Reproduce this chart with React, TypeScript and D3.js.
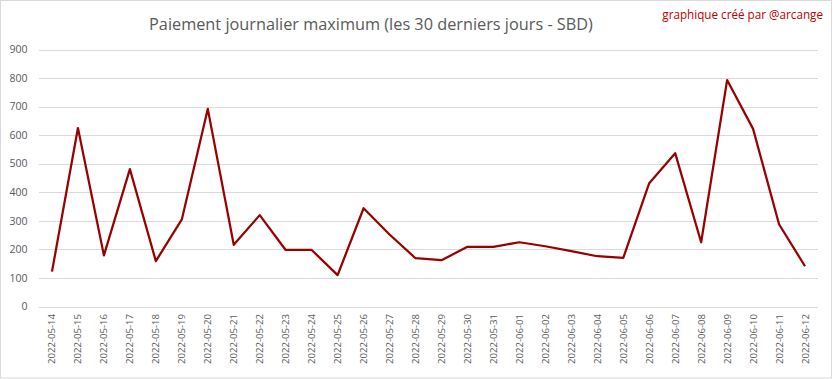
import React from "react";
import * as d3 from "d3";

const dates = [
  "2022-05-14","2022-05-15","2022-05-16","2022-05-17","2022-05-18","2022-05-19",
  "2022-05-20","2022-05-21","2022-05-22","2022-05-23","2022-05-24","2022-05-25",
  "2022-05-26","2022-05-27","2022-05-28","2022-05-29","2022-05-30","2022-05-31",
  "2022-06-01","2022-06-02","2022-06-03","2022-06-04","2022-06-05","2022-06-06",
  "2022-06-07","2022-06-08","2022-06-09","2022-06-10","2022-06-11","2022-06-12",
];
const values = [
  122, 625, 179, 481, 159, 305, 692, 216, 320, 198, 198, 110,
  344, 252, 169, 162, 209, 209, 225, 211, 194, 176, 170, 432,
  537, 225, 793, 622, 288, 141,
];
const yTicks = [0, 100, 200, 300, 400, 500, 600, 700, 800, 900];
const title = "Paiement journalier maximum (les 30 derniers jours - SBD)";
const credit = "graphique créé par @arcange";

const W = 833;
const H = 379;
const left = 39;
const right = 818;
const top = 49.5;
const bottom = 306.5;

export default function App() {
  const x = d3.scalePoint<string>().domain(dates).range([left, right]).padding(0.5);
  const y = d3.scaleLinear().domain([0, 900]).range([bottom, top]);
  const line = d3
    .line<number>()
    .x((_, i) => x(dates[i]) as number)
    .y((d) => y(d));
  const font = "'Open Sans', 'Noto Sans', sans-serif";
  return (
    <svg
      width={W}
      height={H}
      style={{ position: "absolute", left: 0, top: 0, background: "#fff" }}
      fontFamily={font}
    >
      <rect x={0.5} y={0.5} width={831} height={377.5} fill="#fff" stroke="#d9d9d9" />
      <text x={371} y={30} textAnchor="middle" fontSize={16.3} fill="#595959">
        {title}
      </text>
      <text x={823} y={19} textAnchor="end" fontSize={11.7} fill="#c00000">
        {credit}
      </text>
      {yTicks.map((t) => (
        <g key={t}>
          <line
            x1={left}
            x2={right}
            y1={Math.round(y(t)) + 0.5}
            y2={Math.round(y(t)) + 0.5}
            stroke="#d9d9d9"
            strokeWidth={1}
          />
          <text
            x={27.5}
            y={y(t)}
            dy="0.35em"
            textAnchor="end"
            fontSize={10.5}
            fill="#595959"
          >
            {t}
          </text>
        </g>
      ))}
      {dates.map((d) => (
        <text
          key={d}
          transform={`translate(${(x(d) as number) + 3.5},314) rotate(-90)`}
          textAnchor="end"
          fontSize={9.6}
          fill="#595959"
        >
          {d}
        </text>
      ))}
      <path
        d={line(values) || ""}
        fill="none"
        stroke="#990000"
        strokeWidth={2.25}
        strokeLinejoin="round"
      />
    </svg>
  );
}
